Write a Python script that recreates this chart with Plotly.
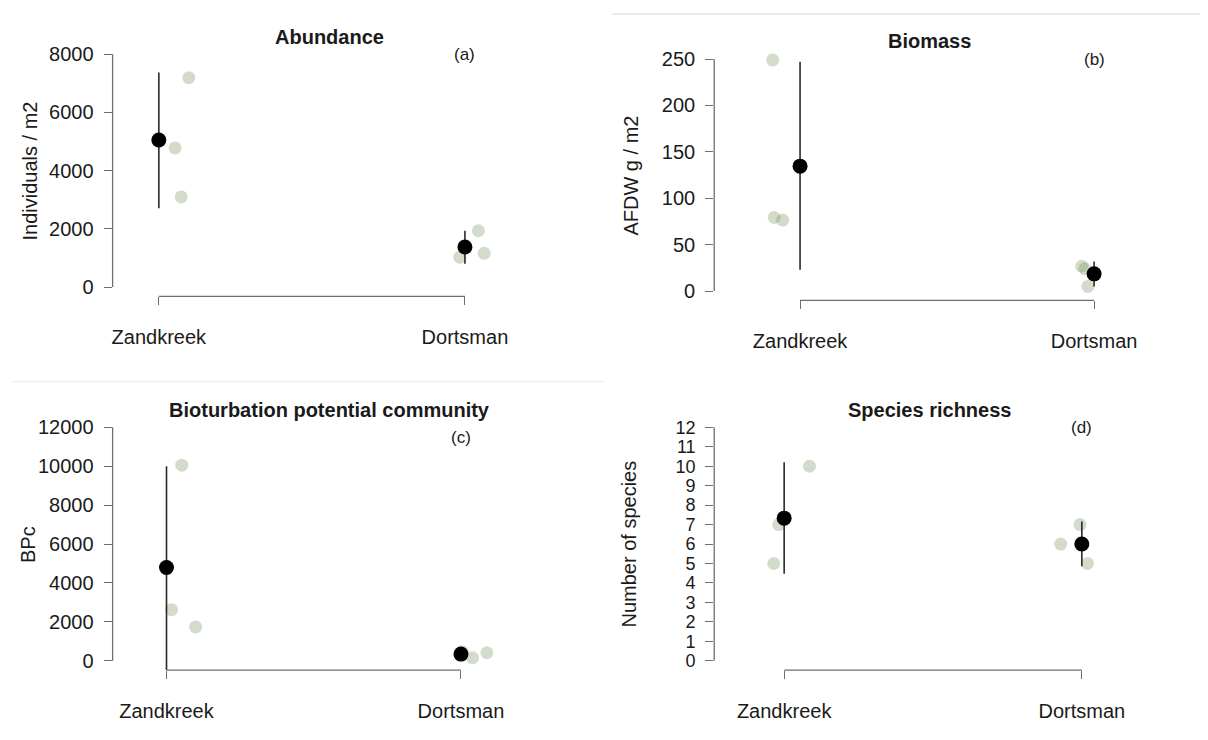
import plotly.graph_objects as go

# ---------------- data ----------------
sites = ["Zandkreek", "Dortsman"]

# (a) Abundance
abund_zand = [7190, 4778, 3095]
abund_dort = [1935, 1160, 1024]
abund_mean = [5050, 1375]
abund_upper = [7372, 1935]
abund_lower = [2710, 799]
abund_jit_zand = [0.098, 0.053, 0.073]
abund_jit_dort = [0.044, 0.063, -0.017]
abund_ticks = [0, 2000, 4000, 6000, 8000]

# (b) Biomass
biom_zand = [249, 79.3, 76.5]
biom_dort = [26.8, 24.0, 5.0]
biom_mean = [134.6, 18.6]
biom_upper = [247, 31.8]
biom_lower = [22.9, 5.0]
biom_jit_zand = [-0.093, -0.088, -0.059]
biom_jit_dort = [-0.042, -0.031, -0.021]
biom_ticks = [0, 50, 100, 150, 200, 250]

# (c) Bioturbation potential community
bpc_zand = [10057, 2625, 1739]
bpc_dort = [461, 153, 409]
bpc_mean = [4790, 341]
bpc_upper = [10006, 530]
bpc_lower = [-600, 152]
bpc_jit_zand = [0.052, 0.017, 0.099]
bpc_jit_dort = [0.004, 0.039, 0.088]
bpc_ticks = [0, 2000, 4000, 6000, 8000, 10000, 12000]

# (d) Species richness
rich_zand = [10, 7, 5]
rich_dort = [7, 6, 5]
rich_mean = [7.33, 6.0]
rich_upper = [10.2, 7.16]
rich_lower = [4.47, 4.86]
rich_jit_zand = [0.085, -0.018, -0.035]
rich_jit_dort = [-0.006, -0.071, 0.019]
rich_ticks = list(range(0, 13))

FONT = "Arial, 'Liberation Sans', Helvetica, sans-serif"
PT_COL = "rgba(110,140,80,0.30)"
AX_COL = "#6e6e6e"
TXT = "#1a1a1a"

# the page body has an 8px margin; lay the figure out inside it
OFF = 8
W, H = 1208 - 2 * OFF, 740 - 2 * OFF


def px2x(px):
    return (px - OFF) / W


def px2y(py):
    return 1 - (py - OFF) / H


panels = [
    dict(zand=abund_zand, dort=abund_dort, mean=abund_mean, up=abund_upper, lo=abund_lower,
         jz=abund_jit_zand, jd=abund_jit_dort, ticks=abund_ticks, tfs=20,
         title="Abundance", ylab="Individuals / m2", tag="(a)", tag_y=8000,
         px_x=(111.7, 545.5), px_y=(43, 296), xr=(0.849, 2.265),
         title_y=35, ylab_x=28.9),
    dict(zand=biom_zand, dort=biom_dort, mean=biom_mean, up=biom_upper, lo=biom_lower,
         jz=biom_jit_zand, jd=biom_jit_dort, ticks=biom_ticks, tfs=20,
         title="Biomass", ylab="AFDW g / m2", tag="(b)", tag_y=250,
         px_x=(713.8, 1145.2), px_y=(48, 300), xr=(0.708, 2.174),
         title_y=39, ylab_x=631),
    dict(zand=bpc_zand, dort=bpc_dort, mean=bpc_mean, up=bpc_upper, lo=bpc_lower,
         jz=bpc_jit_zand, jd=bpc_jit_dort, ticks=bpc_ticks, tfs=20,
         title="Bioturbation potential community", ylab="BPc", tag="(c)", tag_y=11500,
         px_x=(111.7, 545.5), px_y=(418.3, 671.7), xr=(0.817, 2.289),
         title_y=410.7, ylab_x=27),
    dict(zand=rich_zand, dort=rich_dort, mean=rich_mean, up=rich_upper, lo=rich_lower,
         jz=rich_jit_zand, jd=rich_jit_dort, ticks=rich_ticks, tfs=18,
         title="Species richness", ylab="Number of species", tag="(d)", tag_y=12,
         px_x=(713.8, 1145.2), px_y=(418.3, 671.7), xr=(0.765, 2.213),
         title_y=410.7, ylab_x=629),
]

fig = go.Figure()
layout = dict(
    width=W, height=H, margin=dict(l=0, r=0, t=0, b=0),
    paper_bgcolor="white", plot_bgcolor="white", showlegend=False,
    font=dict(family=FONT, size=20, color=TXT),
)
shapes = []
annotations = []

for i, p in enumerate(panels):
    n = "" if i == 0 else str(i + 1)
    xa, ya = "x" + n, "y" + n
    xcat = [1, 2]
    # jittered replicate points
    xs = [1 + j for j in p["jz"]] + [2 + j for j in p["jd"]]
    ys = p["zand"] + p["dort"]
    fig.add_trace(go.Scatter(
        x=xs, y=ys, mode="markers", xaxis=xa, yaxis=ya,
        marker=dict(size=13, color=PT_COL, line=dict(width=0)),
        cliponaxis=False, hoverinfo="skip"))
    # means with error bars
    fig.add_trace(go.Scatter(
        x=xcat, y=p["mean"], mode="markers", xaxis=xa, yaxis=ya,
        marker=dict(size=15, color="black", line=dict(width=0)),
        error_y=dict(type="data", symmetric=False,
                     array=[u - m for u, m in zip(p["up"], p["mean"])],
                     arrayminus=[m - l for m, l in zip(p["mean"], p["lo"])],
                     width=0, thickness=1.6, color="#2a2a2a"),
        cliponaxis=False, hoverinfo="skip"))

    ymin, ymax = p["ticks"][0], p["ticks"][-1]
    pad = 0.04 * (ymax - ymin)
    dx = [px2x(p["px_x"][0]), px2x(p["px_x"][1])]
    dy = [px2y(p["px_y"][1]), px2y(p["px_y"][0])]
    layout["xaxis" + n] = dict(
        domain=dx, range=list(p["xr"]), anchor=ya,
        tickvals=xcat, ticktext=sites, ticks="outside", ticklen=8,
        tickwidth=1.3, tickcolor=AX_COL, showline=False, showgrid=False,
        zeroline=False, tickfont=dict(size=20, color=TXT),
        ticklabelstandoff=15, fixedrange=True)
    layout["yaxis" + n] = dict(
        domain=dy, range=[ymin - pad, ymax + pad], anchor=xa,
        tickvals=p["ticks"], ticktext=[str(t) for t in p["ticks"]],
        ticks="outside", ticklen=8, tickwidth=1.3,
        tickcolor=AX_COL, showline=False, showgrid=False, zeroline=False,
        tickfont=dict(size=p["tfs"], color=TXT), ticklabelstandoff=6, fixedrange=True)

    # partial axis lines (R-style)
    shapes.append(dict(type="line", xref=xa + " domain", yref=ya,
                       x0=0, x1=0, y0=ymin, y1=ymax,
                       line=dict(color=AX_COL, width=1.3)))
    shapes.append(dict(type="line", xref=xa, yref=ya + " domain",
                       x0=xcat[0], x1=xcat[1], y0=0, y1=0,
                       line=dict(color=AX_COL, width=1.3)))

    # titles and labels
    annotations.append(dict(text="<b>" + p["title"] + "</b>", xref="paper", yref="paper",
                            x=(dx[0] + dx[1]) / 2, y=px2y(p["title_y"]),
                            xanchor="center", yanchor="middle", showarrow=False,
                            font=dict(size=20, color=TXT)))
    annotations.append(dict(text=p["ylab"], xref="paper", yref="paper",
                            x=px2x(p["ylab_x"]), y=(dy[0] + dy[1]) / 2, textangle=-90,
                            xanchor="center", yanchor="middle", showarrow=False,
                            font=dict(size=20, color=TXT)))
    annotations.append(dict(text=p["tag"], xref=xa, yref=ya, x=2, y=p["tag_y"],
                            xanchor="center", yanchor="middle", showarrow=False,
                            font=dict(size=17, color=TXT)))

# faint separator lines from the composite image
shapes.append(dict(type="line", xref="paper", yref="paper",
                   x0=px2x(612), x1=1, y0=px2y(12), y1=px2y(12),
                   line=dict(color="#d4d4d4", width=1.2)))
shapes.append(dict(type="line", xref="paper", yref="paper",
                   x0=px2x(11), x1=px2x(604), y0=px2y(381.5), y1=px2y(381.5),
                   line=dict(color="#f0f0f0", width=1.5)))

layout["shapes"] = shapes
layout["annotations"] = annotations
fig.update_layout(**layout)
fig.write_html("out.html")
